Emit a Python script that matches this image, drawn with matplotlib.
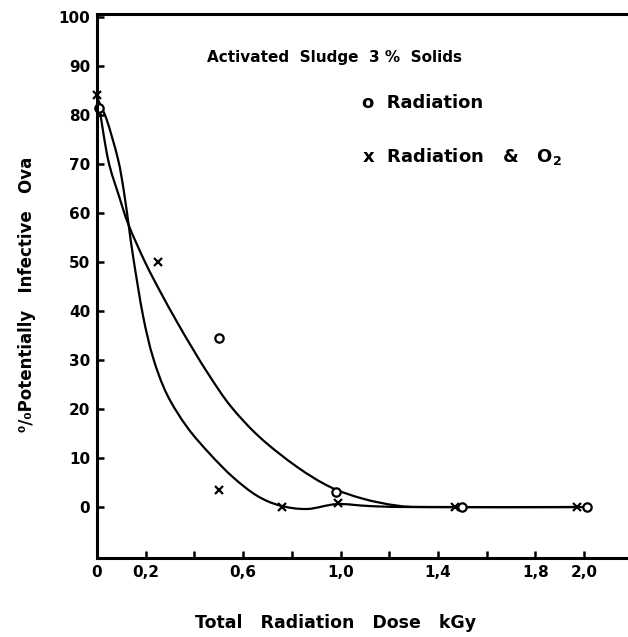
import numpy as np
import matplotlib.pyplot as plt
from matplotlib.path import Path
from matplotlib.patches import PathPatch

plt.rcParams['font.family'] = ['DejaVu Sans']
plt.rcParams['font.weight'] = 'bold'

# measured points
rad_x = [0.01, 0.5, 0.98, 1.5, 2.01]
rad_y = [81.5, 34.5, 3.0, 0.0, 0.0]
o2_x = [0.0, 0.25, 0.5, 0.76, 0.99, 1.47, 1.97]
o2_y = [84.0, 50.0, 3.5, 0.0, 0.8, 0.0, 0.0]

# hand drawn curves
rad_curve_x = [0.005, 0.045, 0.09, 0.13, 0.197, 0.259, 0.328, 0.394, 0.464,
               0.55, 0.669, 0.821, 0.957, 1.092, 1.232, 1.37, 2.0]
rad_curve_y = [83, 71.0, 63.5, 57.5, 50.0, 44.0, 37.8, 32.2, 26.6,
               20.5, 14.2, 8.2, 4.1, 1.7, 0.3, 0.0, 0.0]
o2_curve_x = [0.005, 0.04, 0.086, 0.11, 0.13, 0.15, 0.189, 0.23, 0.287, 0.37,
              0.464, 0.558, 0.657, 0.752, 0.862, 0.985, 1.12, 1.3, 1.97]
o2_curve_y = [83, 79.0, 71.0, 64.5, 57.5, 50.5, 39.0, 30.5, 23.0, 16.3,
              10.8, 6.1, 2.3, 0.3, -0.4, 0.6, 0.2, 0.0, 0.0]

xticks = [0, 0.2, 0.6, 1.0, 1.4, 1.8, 2.0]
xticklabels = ['0', '0,2', '0,6', '1,0', '1,4', '1,8', '2,0']
xminor = [0.4, 0.8, 1.2, 1.6]
yticks = list(range(0, 101, 10))


def smooth_curve(xs, ys):
    # catmull-rom through the read points, drawn as bezier segments
    p = np.column_stack([xs, ys]).astype(float)
    verts = [p[0]]
    codes = [Path.MOVETO]
    n = len(p)
    for i in range(n - 1):
        p0 = p[i - 1] if i > 0 else p[i]
        p3 = p[i + 2] if i + 2 < n else p[i + 1]
        c1 = p[i] + (p[i + 1] - p0) / 6
        c2 = p[i + 1] - (p3 - p[i]) / 6
        verts += [c1, c2, p[i + 1]]
        codes += [Path.CURVE4] * 3
    return PathPatch(Path(verts, codes), fill=False, edgecolor='black', lw=1.6)


fig = plt.figure(figsize=(6.28, 6.37), dpi=100)
ax = fig.add_axes([0.1545, 0.124, 0.8455, 0.854])

ax.add_patch(smooth_curve(rad_curve_x, rad_curve_y))
ax.add_patch(smooth_curve(o2_curve_x, o2_curve_y))
ax.plot(rad_x, rad_y, 'o', mfc='white', mec='black', mew=1.6, ms=6, clip_on=False)
ax.plot(o2_x, o2_y, 'x', color='black', mew=1.6, ms=6, clip_on=False)

ax.set_xlim(0, 2.18)
ax.set_ylim(-10.4, 100.6)
ax.set_xticks(xticks)
ax.set_xticklabels(xticklabels)
ax.set_xticks(xminor, minor=True)
ax.set_yticks(yticks)
ax.tick_params(direction='in', length=5, width=1.8, labelsize=11, pad=5)
ax.tick_params(axis='x', which='minor', direction='in', length=5, width=1.8)
ax.spines['right'].set_visible(False)
for s in ['left', 'bottom', 'top']:
    ax.spines[s].set_linewidth(2.2)

fig.text(0.33, 0.909, 'Activated  Sludge  3 %  Solids', fontsize=11, va='center')
fig.text(0.576, 0.838, 'o  Radiation', fontsize=13, va='center')
fig.text(0.576, 0.754, r'x  Radiation   &   O$_{\mathbf{2}}$', fontsize=13, va='center')

fig.text(0.043, 1 - 294 / 637, '⁰/₀Potentially   Infective   Ova', rotation=90,
         fontsize=12, ha='center', va='center')
fig.text(0.535, 0.022, 'Total   Radiation   Dose   kGy', fontsize=12.5,
         ha='center', va='center')

fig.savefig('out.png', dpi=100)
